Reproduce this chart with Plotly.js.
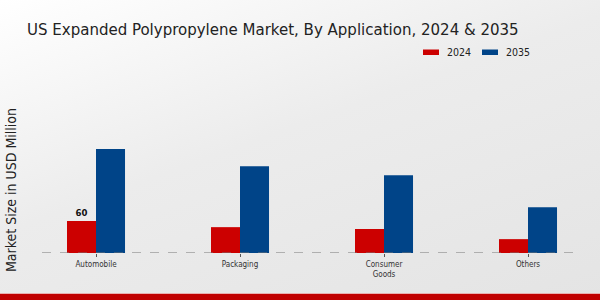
<!DOCTYPE html>
<html>
<head>
<meta charset="utf-8">
<script src="https://cdn.plot.ly/plotly-3.0.1.min.js"></script>
<style>
html,body{margin:0;padding:0;}
body{width:600px;height:300px;overflow:hidden;background:linear-gradient(160deg,#ffffff 0%,#ececec 45%,#e4e4e4 100%);position:relative;}
#chart{width:600px;height:300px;position:absolute;left:0;top:0;}
#bar{position:absolute;left:0;bottom:0;width:600px;height:6px;background:#c00000;border-top:1px solid #e8b0b0;}
</style>
</head>
<body>
<div id="chart"></div>
<div id="bar"></div>
<script>
const categories = ["Automobile", "Packaging", "Consumer<br>Goods", "Others"];
const values2024 = [60, 48.5, 45, 26];
const values2035 = [195, 163, 146, 86];
const labels2024 = ["<b>60</b>", "", "", ""];
const seriesNames = ["2024", "2035"];
const seriesColors = ["#cc0000", "#004488"];

const FONT = "DejaVu Sans Condensed, DejaVu Sans, sans-serif";

const traces = [
  {type:"bar", name:seriesNames[0], x:categories, y:values2024, marker:{color:seriesColors[0]},
   text:labels2024, textposition:"outside", cliponaxis:false,
   textfont:{family:FONT, size:9.5, color:"#111"}, hoverinfo:"none"},
  {type:"bar", name:seriesNames[1], x:categories, y:values2035, marker:{color:seriesColors[1]}, hoverinfo:"none"}
];

// paper coordinates helpers: plot area x 42..582, y 75..253
const px = v => (v - 42) / 540;
const py = v => (253 - v) / 178;

const legendShapes = [
  {type:"rect", xref:"paper", yref:"paper", x0:px(423), x1:px(439), y0:py(55), y1:py(49.5),
   fillcolor:seriesColors[0], line:{width:0}},
  {type:"rect", xref:"paper", yref:"paper", x0:px(482), x1:px(498), y0:py(55), y1:py(49.5),
   fillcolor:seriesColors[1], line:{width:0}}
];
const legendTexts = [
  {xref:"paper", yref:"paper", x:px(445), y:py(52.3), xanchor:"left", yanchor:"middle",
   text:seriesNames[0], showarrow:false, font:{family:FONT, size:10.5, color:"#222"}},
  {xref:"paper", yref:"paper", x:px(504), y:py(52.3), xanchor:"left", yanchor:"middle",
   text:seriesNames[1], showarrow:false, font:{family:FONT, size:10.5, color:"#222"}},
  {xref:"paper", yref:"paper", x:px(11), y:py(190), xanchor:"center", yanchor:"middle",
   text:"Market Size in USD Million", textangle:-90, showarrow:false,
   font:{family:FONT, size:14, color:"#222"}}
];

const layout = {
  width:600, height:300,
  paper_bgcolor:"rgba(0,0,0,0)", plot_bgcolor:"rgba(0,0,0,0)",
  margin:{l:42, r:18, t:75, b:47},
  barmode:"group", bargap:0.597, bargroupgap:0,
  title:{text:"US Expanded Polypropylene Market, By Application, 2024 & 2035",
         x:27/600, xanchor:"left", y:1-29/300, yanchor:"middle",
         font:{family:FONT, size:16.7, color:"#222"}},
  showlegend:false,
  xaxis:{range:[-0.375, 3.375], showgrid:false, zeroline:false, showline:false,
         ticks:"outside", ticklen:3, tickcolor:"#555",
         tickfont:{family:FONT, size:8, color:"#333"}},
  yaxis:{range:[0, 334], showgrid:false, zeroline:false, showticklabels:false, ticks:""},
  shapes:[{type:"line", xref:"paper", yref:"y", x0:0, x1:1, y0:0, y1:0,
           line:{color:"#777", width:1, dash:"dash"}}].concat(legendShapes),
  annotations:legendTexts
};

Plotly.newPlot("chart", traces, layout, {displayModeBar:false, staticPlot:true});
</script>
</body>
</html>
